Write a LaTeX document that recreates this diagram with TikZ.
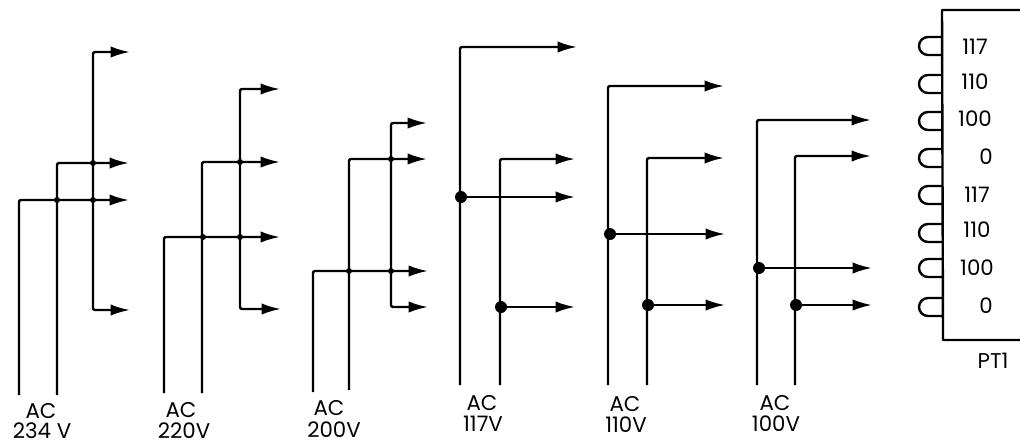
\documentclass[tikz,border=0pt]{standalone}
\usepackage{fontspec}
\setmainfont{Poppins}
\usetikzlibrary{arrows.meta}
\tikzset{
  x=0.75pt,y=-0.75pt,
  wire/.style={line width=1.8pt,line join=round},
  feed/.style={wire,-{Latex[length=14.5pt,width=8.5pt]}},
  dotnode/.style={circle,fill=black,inner sep=0pt,minimum size=9pt},
  tiny dot/.style={circle,fill=black,inner sep=0pt,minimum size=4.5pt},
  lab/.style={inner sep=0pt,font=\fontsize{16}{17}\selectfont,text=black},
  coil/.style={line width=1.8pt}
}
\newcommand{\feedline}[5]{% name, x bottom, y bottom, y top, x end
  \coordinate (#1b) at (#2,#3);
  \coordinate (#1t) at (#2,#4);
  \coordinate (#1e) at (#5,#4);
  \draw[feed,rounded corners=1.5pt] (#1b) -- (#1t) -- (#1e);
}
\newcommand{\coilat}[2]{% name, y centre
  \coordinate (#1a) at (942,#2-9);
  \coordinate (#1b) at (942,#2+9);
  \draw[coil] (#1a) -- ++(-14,0) arc[start angle=90,end angle=270,radius=6.75pt] -- (#1b);
}
\begin{document}
\begin{tikzpicture}
\useasboundingbox (0,0) rectangle (1020,443);
% group 1
\feedline{a}{19}{395}{200}{129}
\feedline{b}{57}{395}{163}{129}
\coordinate (c0) at (93,180);
\coordinate (ct) at (93,52); \coordinate (cte) at (130,52);
\coordinate (cb) at (93,310); \coordinate (cbe) at (130,310);
\draw[feed,rounded corners=1.5pt] (c0) -- (ct) -- (cte);
\draw[feed,rounded corners=1.5pt] (c0) -- (cb) -- (cbe);
\node[tiny dot] at (57,200) {};
\node[tiny dot] at (93,200) {};
\node[tiny dot] at (93,163) {};
% group 2
\feedline{d}{164}{393}{237}{280}
\feedline{e}{202}{393}{162}{280}
\coordinate (f0) at (240,200);
\coordinate (ft) at (240,89); \coordinate (fte) at (280,89);
\coordinate (fb) at (240,309); \coordinate (fbe) at (281,309);
\draw[feed,rounded corners=1.5pt] (f0) -- (ft) -- (fte);
\draw[feed,rounded corners=1.5pt] (f0) -- (fb) -- (fbe);
\node[tiny dot] at (203,237) {};
\node[tiny dot] at (240,237) {};
\node[tiny dot] at (240,162) {};
% group 3
\feedline{g}{313}{392}{271}{428}
\feedline{h}{349}{390}{159}{427}
\coordinate (i0) at (391,215);
\coordinate (it) at (391,123); \coordinate (ite) at (427,123);
\coordinate (ib) at (391,307); \coordinate (ibe) at (428,307);
\draw[feed,rounded corners=1.5pt] (i0) -- (it) -- (ite);
\draw[feed,rounded corners=1.5pt] (i0) -- (ib) -- (ibe);
\node[tiny dot] at (349,271) {};
\node[tiny dot] at (391,271) {};
\node[tiny dot] at (391,159) {};
% group 4
\feedline{j}{460}{385}{47}{577}
\feedline{k}{500}{385}{159}{575}
\node[dotnode] (j1) at (461,197) {};
\coordinate (j1e) at (575,197);
\draw[feed] (j1) -- (j1e);
\node[dotnode] (k1) at (501,307) {};
\coordinate (k1e) at (575,307);
\draw[feed] (k1) -- (k1e);
% group 5
\feedline{l}{608}{385}{86}{724}
\feedline{m}{647}{385}{158}{724}
\node[dotnode] (l1) at (610,234) {};
\coordinate (l1e) at (725,234);
\draw[feed] (l1) -- (l1e);
\node[dotnode] (m1) at (648,305) {};
\coordinate (m1e) at (725,305);
\draw[feed] (m1) -- (m1e);
% group 6
\feedline{n}{757}{385}{120}{871}
\feedline{o}{795}{385}{156}{871}
\node[dotnode] (n1) at (759,268) {};
\coordinate (n1e) at (872,268);
\draw[feed] (n1) -- (n1e);
\node[dotnode] (o1) at (796,305) {};
\coordinate (o1e) at (872,305);
\draw[feed] (o1) -- (o1e);
% PT1 box
\coordinate (pa) at (1020,10);
\coordinate (pb) at (942,10);
\coordinate (pc) at (943,340);
\coordinate (pd) at (1020,340);
\draw[wire] (pa) -- (pb) -- (pc) -- (pd);
\coilat{c1}{46}
\coilat{c2}{84}
\coilat{c3}{121}
\coilat{c4}{158}
\coilat{c5}{195}
\coilat{c6}{233}
\coilat{c7}{268}
\coilat{c8}{307}
\node[lab] (t1) at (975,47) {117};
\node[lab] (t2) at (975,82) {110};
\node[lab] (t3) at (975,119) {100};
\node[lab] (t4) at (986,157) {0};
\node[lab] (t5) at (977,195) {117};
\node[lab] (t6) at (977,230) {110};
\node[lab] (t7) at (977,268) {100};
\node[lab] (t8) at (986,306) {0};
\node[lab] (pt) at (993,361) {PT1};
% labels
\node[lab] (ac1) at (41,411) {AC};
\node[lab] (v1) at (42,431) {234 V};
\node[lab] (ac2) at (181,410) {AC};
\node[lab] (v2) at (184,431) {220V};
\node[lab] (ac3) at (329,408) {AC};
\node[lab] (v3) at (334,430) {200V};
\node[lab] (ac4) at (482,403) {AC};
\node[lab] (v4) at (483,424) {117V};
\node[lab] (ac5) at (625,404) {AC};
\node[lab] (v5) at (626,425) {110V};
\node[lab] (ac6) at (775,403) {AC};
\node[lab] (v6) at (776,424) {100V};
\end{tikzpicture}
\end{document}
